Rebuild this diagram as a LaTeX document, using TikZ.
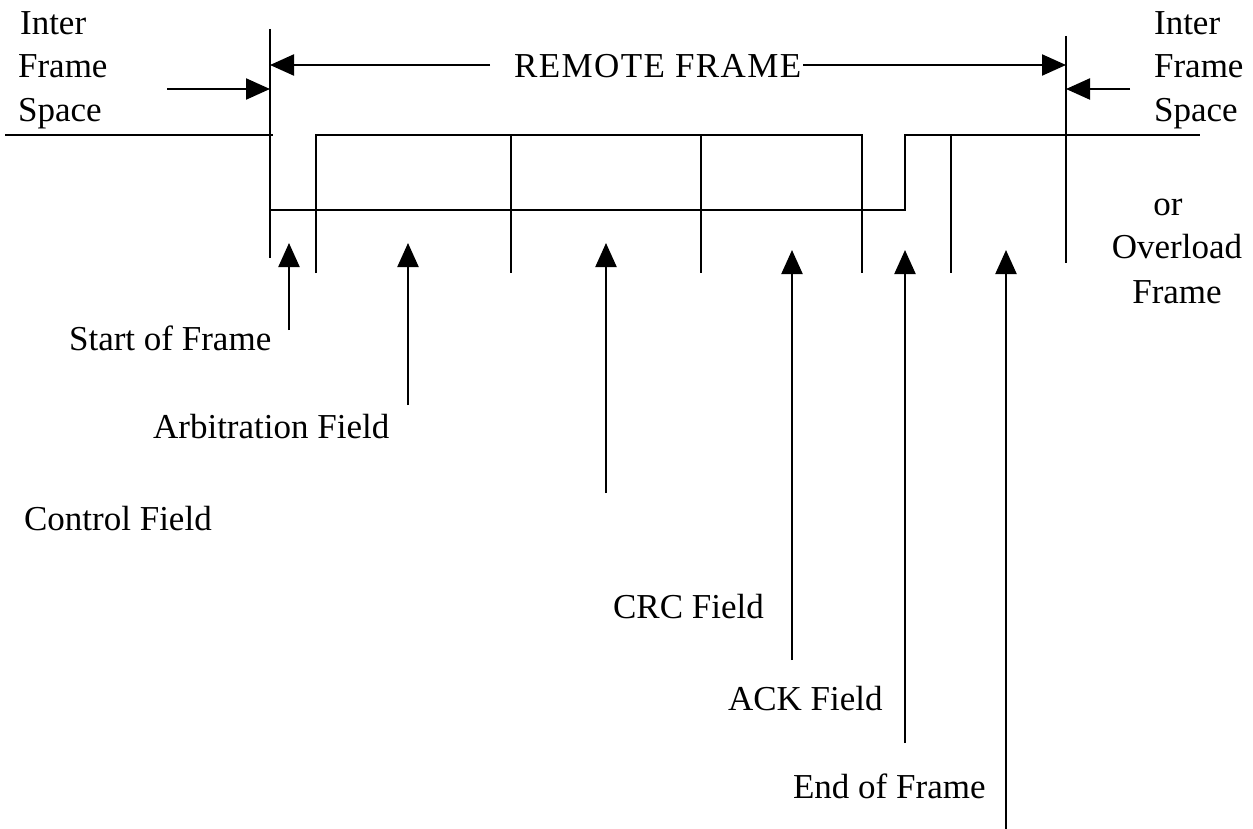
\documentclass[tikz,border=0pt]{standalone}
\usepackage{fontspec}
\setmainfont{Liberation Serif}
\usetikzlibrary{arrows.meta}
\begin{document}
\begin{tikzpicture}[x=0.5pt,y=-0.5pt,
  line width=1.1pt,
  lbl/.style={inner sep=0pt,anchor=base west,font=\fontsize{17.5}{22}\selectfont},
  clbl/.style={inner sep=0pt,anchor=base,font=\fontsize{17.5}{22}\selectfont},
  tip/.style={-{Triangle[length=12pt,width=10.5pt]}}]
\useasboundingbox (0,0) rectangle (1253,829);
% texts
\node[lbl] (ifl1) at (19,35) {Inter};
\node[lbl] (ifl2) at (17,78) {Frame};
\node[lbl] (ifl3) at (17,122) {Space};
\node[lbl] (ifr1) at (1153,35) {Inter};
\node[lbl] (ifr2) at (1153,78) {Frame};
\node[lbl] (ifr3) at (1153,122) {Space};
\node[clbl] (ovl1) at (1168,215) {or};
\node[clbl] (ovl2) at (1177,258) {Overload};
\node[clbl] (ovl3) at (1177,303) {Frame};
\node[lbl,font=\fontsize{17.5}{22}\selectfont\addfontfeature{LetterSpace=4}] (rf) at (513,78) {REMOTE FRAME};
\node[lbl] (sof) at (68,350) {Start of Frame};
\node[lbl] (arb) at (152,438) {Arbitration Field};
\node[lbl] (ctl) at (23,530) {Control Field};
\node[lbl] (crc) at (612,618) {CRC Field};
\node[lbl] (ack) at (727,710) {ACK Field};
\node[lbl] (eof) at (792,798) {End of Frame};
% coordinates
\coordinate (v1t) at (270,29);  \coordinate (v1b) at (270,258);
\coordinate (v8t) at (1066,36); \coordinate (v8b) at (1066,263);
\coordinate (ifsL) at (167,89); \coordinate (ifsLe) at (270,89);
\coordinate (ifsR) at (1130,89); \coordinate (ifsRe) at (1066,89);
\coordinate (rfL) at (270,65); \coordinate (rfR) at (1066,65);
\coordinate (rfL2) at (490,65); \coordinate (rfR2) at (803,65);
% bit stream lines
\draw (v1t) -- (v1b);
\draw (v8t) -- (v8b);
\draw (5,135) -- (273,135);
\draw (316,273) -- (316,135) -- (862,135) -- (862,273);
\draw (270,210) -- (905,210) -- (905,135) -- (1200,135);
\draw (511,135) -- (511,273);
\draw (701,135) -- (701,273);
\draw (951,135) -- (951,273);
% top arrows
\draw[tip] (ifsL) -- (ifsLe);
\draw[tip] (ifsR) -- (ifsRe);
\draw[tip] (rfL2) -- (rfL);
\draw[tip] (rfR2) -- (rfR);
% up arrows
\coordinate (a1) at (289,330);  \coordinate (a1t) at (289,243);
\coordinate (a2) at (408,405);  \coordinate (a2t) at (408,243);
\coordinate (a3) at (606,493);  \coordinate (a3t) at (606,243);
\coordinate (a4) at (792,660);  \coordinate (a4t) at (792,250);
\coordinate (a5) at (905,743);  \coordinate (a5t) at (905,250);
\coordinate (a6) at (1006,829); \coordinate (a6t) at (1006,250);
\foreach \i in {1,...,6} {\draw[tip] (a\i) -- (a\i t);}
\end{tikzpicture}
\end{document}
